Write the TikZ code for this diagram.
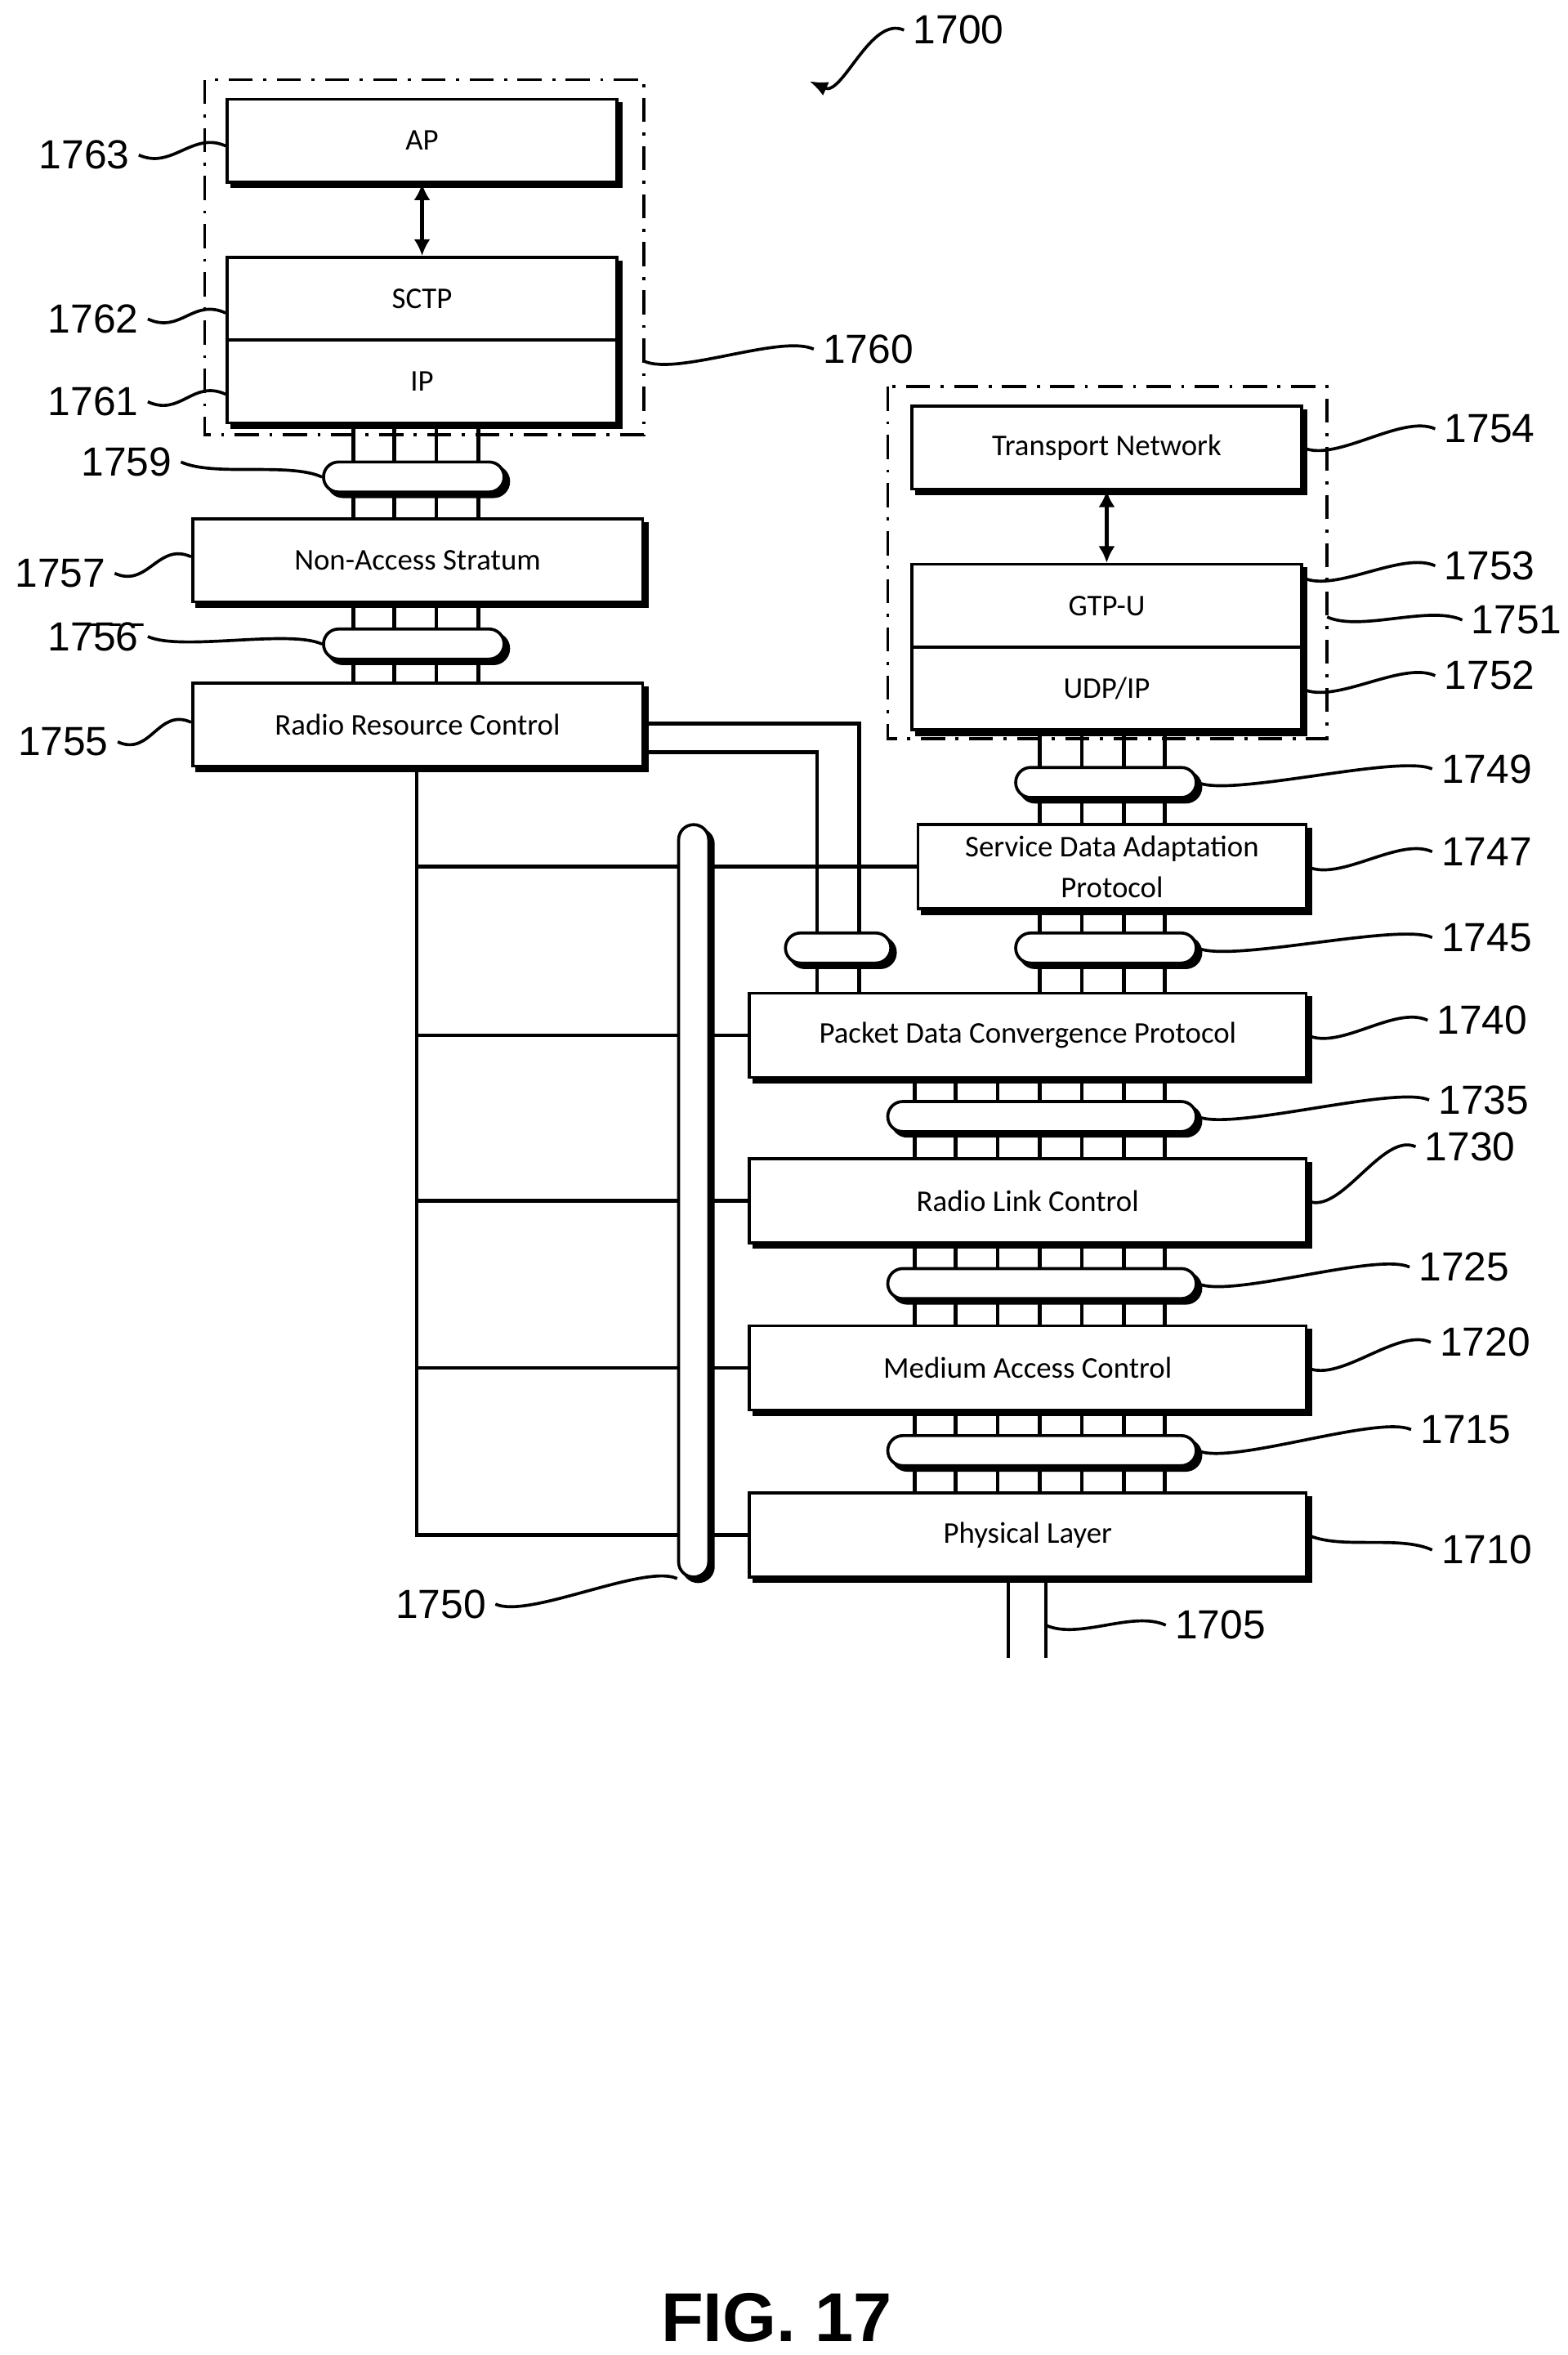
\documentclass[tikz,border=0pt]{standalone}
\usepackage{fontspec}
\setmainfont{Carlito}
\newfontfamily\labfont{Liberation Sans}
\usetikzlibrary{positioning,arrows.meta}

\tikzset{
  layer/.style={draw, fill=white, line width=2pt, inner sep=0pt, minimum height=55pt,
    font=\fontsize{20}{24}\selectfont, align=center,
    preaction={draw, fill=black, line width=2pt, transform canvas={shift={(3pt,-3pt)}}}},
  pill/.style={layer, rounded corners=10pt, minimum height=20pt},
  ref/.style={font=\labfont\fontsize{27}{30}\selectfont, inner sep=6pt},
  lead/.style={line width=2pt},
  wire/.style={line width=2.5pt},
  frame/.style={line width=2pt, dash pattern=on 16pt off 7pt on 2pt off 7pt}
}
\newcommand\lead[2]{\draw[lead] #1 .. controls +(22,10) and +(-22,-10) .. #2;}

\begin{document}
\begin{tikzpicture}[x=1pt,y=-1pt]
  \useasboundingbox (0,0) rectangle (1042,1565);

  % left stack
  \draw[frame] (136,53) rectangle (428,289);
  \node[layer, minimum width=259pt] (ap) at (280.5,93.5) {AP};
  \node[layer, minimum width=259pt] (sctp) at (280.5,198.5) {SCTP};
  \node[layer, minimum width=259pt] (ip) at (280.5,253.5) {IP};
  \node[layer, minimum width=299pt] (nas) at (277.5,372.5) {Non-Access Stratum};
  \node[layer, minimum width=299pt] (rrc) at (277.5,481.5) {Radio Resource Control};

  % right stack
  \draw[frame] (590,257) rectangle (882,491);
  \node[layer, minimum width=259pt] (tn) at (735.5,297.5) {Transport Network};
  \node[layer, minimum width=259pt] (gtpu) at (735.5,402.5) {GTP-U};
  \node[layer, minimum width=259pt] (udp) at (735.5,457.5) {UDP/IP};
  \node[layer, minimum width=258pt, minimum height=56pt, font=\fontsize{20}{27}\selectfont] (sdap) at (739,576) {Service Data Adaptation\\Protocol};
  \node[layer, minimum width=370pt, minimum height=56pt] (pdcp) at (683,688) {Packet Data Convergence Protocol};
  \node[layer, minimum width=370pt, minimum height=56pt] (rlc) at (683,798) {Radio Link Control};
  \node[layer, minimum width=370pt, minimum height=56pt] (mac) at (683,909) {Medium Access Control};
  \node[layer, minimum width=370pt, minimum height=56pt] (phy) at (683,1020) {Physical Layer};

  \draw[line width=2.5pt, {Latex[length=11pt,width=11pt]}-{Latex[length=11pt,width=11pt]}] (ap.south) -- (sctp.north);
  \draw[line width=2.5pt, {Latex[length=11pt,width=11pt]}-{Latex[length=11pt,width=11pt]}] (tn.south) -- (gtpu.north);

  % wires
  \foreach \x in {235,262,290,318} {
    \draw[wire] (\x,0 |- ip.south) -- (\x,0 |- nas.north);
    \draw[wire] (\x,0 |- nas.south) -- (\x,0 |- rrc.north);
  }
  \foreach \x in {691,719,747,774} {
    \draw[wire] (\x,0 |- udp.south) -- (\x,0 |- sdap.north);
    \draw[wire] (\x,0 |- sdap.south) -- (\x,0 |- pdcp.north);
  }
  \foreach \x in {608,635,663,691,719,747,774} {
    \draw[wire] (\x,0 |- pdcp.south) -- (\x,0 |- rlc.north);
    \draw[wire] (\x,0 |- rlc.south) -- (\x,0 |- mac.north);
    \draw[wire] (\x,0 |- mac.south) -- (\x,0 |- phy.north);
  }
  \draw[wire] (rrc.east |- 0,481) -| (571,0 |- pdcp.north);
  \draw[wire] (rrc.east |- 0,500) -| (543,0 |- pdcp.north);
  \draw[wire] (277,0 |- rrc.south) |- (phy.west);
  \foreach \n in {sdap,pdcp,rlc,mac} \draw[wire] (277,0 |- \n.west) -- (\n.west);
  \coordinate (air) at (683,1102);
  \draw[wire] (670,0 |- phy.south) -- (670,0 |- air);
  \draw[wire] (695,0 |- phy.south) -- (695,0 |- air);

  % pills
  \node[pill, minimum width=120pt] (p1759) at (275,317) {};
  \node[pill, minimum width=120pt] (p1756) at (275,428) {};
  \node[pill, minimum width=120pt] (p1749) at (735,520) {};
  \node[pill, minimum width=120pt] (p1745) at (735,630) {};
  \node[pill, minimum width=70pt] (prrc) at (557,630) {};
  \node[pill, minimum width=205pt] (p1735) at (692.5,742) {};
  \node[pill, minimum width=205pt] (p1725) at (692.5,853) {};
  \node[pill, minimum width=205pt] (p1715) at (692.5,964) {};
  \node[pill, minimum width=20pt, minimum height=500pt] (p1750) at (461,798) {};

  % reference numerals
  \node[ref] (l1700) at (637,20) {1700};
  \node[ref] (l1763) at (56,103) {1763};
  \node[ref] (l1762) at (62,212) {1762};
  \node[ref] (l1761) at (62,267) {1761};
  \node[ref] (l1760) at (577,232) {1760};
  \node[ref] (l1759) at (84,307) {1759};
  \node[ref] (l1757) at (40,381) {1757};
  \node[ref] (l1756) at (62,423) {1\=7\=5\=6};
  \node[ref] (l1755) at (42,493) {1755};
  \node[ref] (l1754) at (990,285) {1754};
  \node[ref] (l1753) at (990,376) {1753};
  \node[ref] (l1751) at (1008,412) {1751};
  \node[ref] (l1752) at (990,449) {1752};
  \node[ref] (l1749) at (988,511) {1749};
  \node[ref] (l1747) at (988,566) {1747};
  \node[ref] (l1745) at (988,623) {1745};
  \node[ref] (l1740) at (985,678) {1740};
  \node[ref] (l1735) at (986,731) {1735};
  \node[ref] (l1730) at (977,762) {1730};
  \node[ref] (l1725) at (973,842) {1725};
  \node[ref] (l1720) at (987,892) {1720};
  \node[ref] (l1715) at (974,950) {1715};
  \node[ref] (l1710) at (988,1030) {1710};
  \node[ref] (l1705) at (811,1080) {1705};
  \node[ref] (l1750) at (293,1066) {1750};
  \node[font=\labfont\bfseries\fontsize{46}{50}\selectfont] (fig) at (516,1540) {FIG. 17};

  % leaders
  \draw[lead, -{Latex[length=12pt,width=10pt]}] (l1700.west) .. controls +(-22,-10) and +(22,10) .. (538,54);
  \lead{(l1763.east)}{(ap.west |- 0,97)}
  \lead{(l1762.east)}{(sctp.west |- 0,208)}
  \lead{(l1761.east)}{(ip.west |- 0,262)}
  \lead{(428,240)}{(l1760.west)}
  \lead{(l1759.east)}{(p1759.west)}
  \lead{(l1757.east)}{(nas.west |- 0,370)}
  \lead{(l1756.east)}{(p1756.west)}
  \lead{(l1755.east)}{(rrc.west |- 0,480)}
  \lead{(tn.east)}{(l1754.west)}
  \lead{(gtpu.east |- 0,384)}{(l1753.west)}
  \lead{(882,410)}{(l1751.west)}
  \lead{(udp.east |- 0,458)}{(l1752.west)}
  \lead{(p1749.east)}{(l1749.west)}
  \lead{(sdap.east)}{(l1747.west)}
  \lead{(p1745.east)}{(l1745.west)}
  \lead{(pdcp.east)}{(l1740.west)}
  \lead{(p1735.east)}{(l1735.west)}
  \lead{(rlc.east)}{(l1730.west)}
  \lead{(p1725.east)}{(l1725.west)}
  \lead{(mac.east)}{(l1720.west)}
  \lead{(p1715.east)}{(l1715.west)}
  \lead{(phy.east)}{(l1710.west)}
  \lead{(695,1080)}{(l1705.west)}
  \lead{(l1750.east)}{(p1750.south west)}
\end{tikzpicture}
\end{document}
